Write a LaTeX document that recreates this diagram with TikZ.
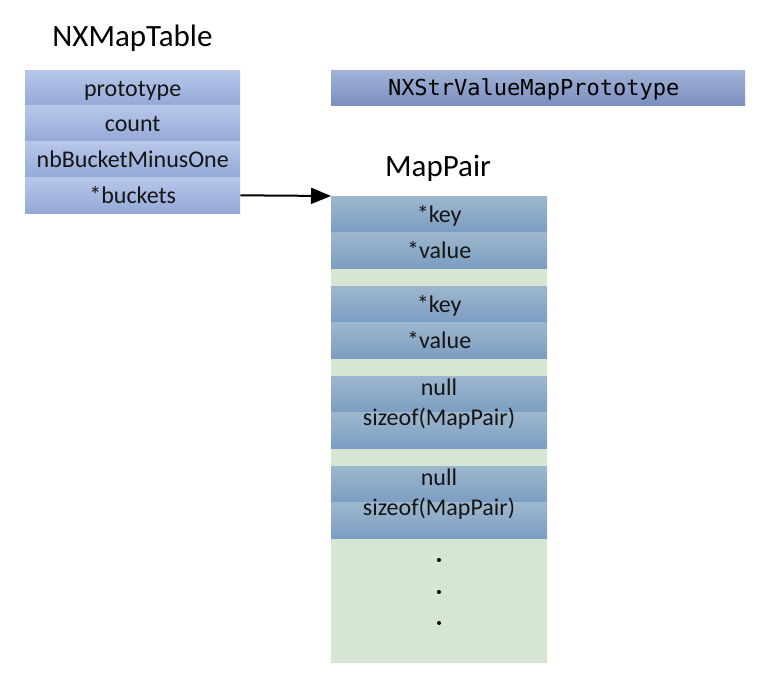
\documentclass[tikz,border=0pt]{standalone}
\usepackage{fontspec}
\setmainfont{Carlito}
\setmonofont{DejaVu Sans Mono}
\usetikzlibrary{arrows.meta}

\definecolor{tabtop}{HTML}{B7C7E9}
\definecolor{tabbot}{HTML}{94A9D7}
\definecolor{pairtop}{HTML}{9DB7CD}
\definecolor{pairbot}{HTML}{7C9DC3}
\definecolor{prototop}{HTML}{A2B3D8}
\definecolor{protobot}{HTML}{7B8EBE}
\definecolor{bucketgreen}{HTML}{D6E6D2}
\definecolor{celltext}{HTML}{151515}

\tikzset{
  tablecell/.style={anchor=north west, minimum width=215pt, minimum height=35.75pt,
    inner sep=0pt, top color=tabtop, bottom color=tabbot, text=celltext,
    font=\fontsize{24}{27}\selectfont, text height=20.5pt, text depth=4.5pt},
  paircell/.style={anchor=north west, minimum width=216pt, minimum height=36pt,
    inner sep=0pt, top color=pairtop, bottom color=pairbot, text=celltext,
    font=\fontsize{24}{27}\selectfont, text height=20.5pt, text depth=4.5pt},
  celllabel/.style={anchor=base, inner sep=0pt, text=celltext,
    font=\fontsize{24}{27}\selectfont},
  titletext/.style={inner sep=0pt, font=\fontsize{31}{36}\selectfont},
  bucketdot/.style={circle, fill=black, inner sep=0pt, minimum size=4pt}
}

\begin{document}
\begin{tikzpicture}[x=1pt, y=-1pt]
\useasboundingbox (0,0) rectangle (764,684);

% NXMapTable
\node[titletext, anchor=base] (tabletitle) at (132.5,47) {NXMapTable};
\node[tablecell] (prototype) at (25,70) {prototype};
\node[tablecell] (count) at (25,105.75) {count};
\node[tablecell] (nbbucket) at (25,141.5) {nbBucketMinusOne};
\node[tablecell] (buckets) at (25,177.25) {*buckets};

% prototype
\node[anchor=north west, minimum width=414pt, minimum height=35pt, inner sep=0pt,
  top color=prototop, bottom color=protobot, text=black,
  font=\ttfamily\fontsize{22}{26}\selectfont, text height=19pt, text depth=4pt]
  (strproto) at (331,70) {\hspace*{-9pt}NXStrValueMapPrototype};

% MapPair buckets
\node[titletext, anchor=base west] (pairtitle) at (385,177) {MapPair};
\node[anchor=north west, minimum width=216pt, minimum height=467pt, inner sep=0pt,
  fill=bucketgreen] (bucketarea) at (331,196) {};
\node[paircell] (key1) at (331,196) {*key};
\node[paircell] (value1) at (331,232) {*value};
\node[paircell] (key2) at (331,286) {*key};
\node[paircell] (value2) at (331,322) {*value};
\node[paircell] (empty1a) at (331,376) {};
\node[paircell] (empty1b) at (331,412) {};
\node[celllabel] (null1) at (439,396) {null};
\node[celllabel] (size1) at (439,425.5) {sizeof(MapPair)};
\node[paircell] (empty2a) at (331,466) {};
\node[paircell] (empty2b) at (331,502) {};
\node[celllabel] (null2) at (439,486) {null};
\node[celllabel] (size2) at (439,515.5) {sizeof(MapPair)};

% more buckets
\node[bucketdot] (dot1) at (439,560) {};
\node[bucketdot] (dot2) at (439,592) {};
\node[bucketdot] (dot3) at (439,623) {};

\draw[-{Triangle[length=20pt,width=16pt]}, line width=2pt] (buckets.east) -- (key1.north west);
\end{tikzpicture}
\end{document}
